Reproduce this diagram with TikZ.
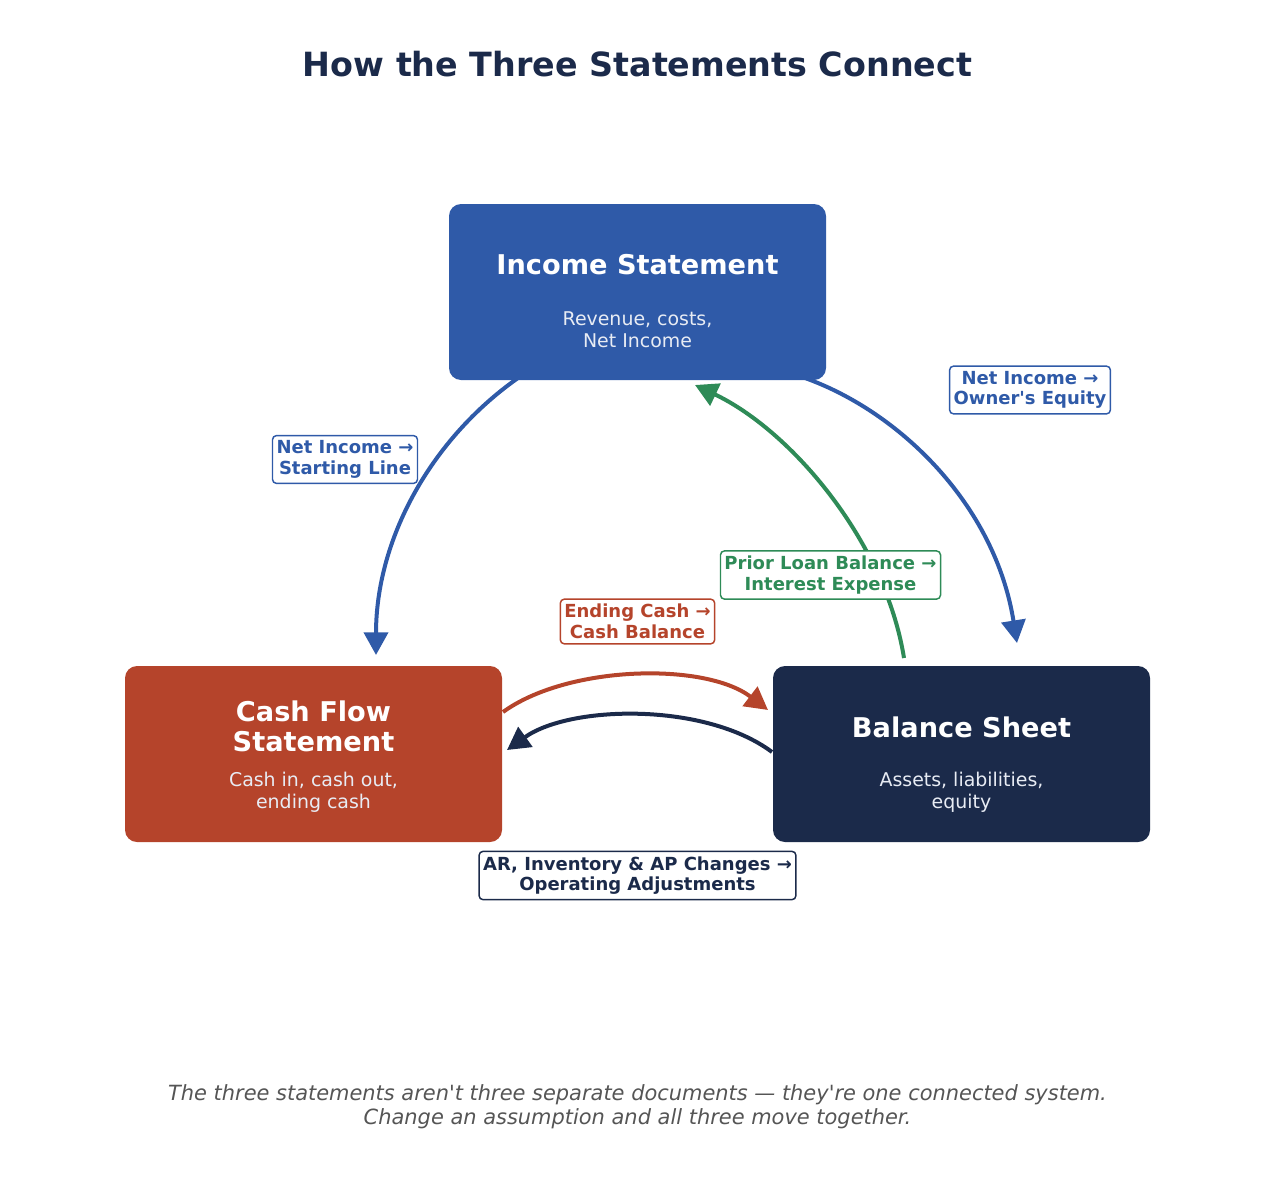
\documentclass[tikz,border=0pt]{standalone}
\usepackage{fontspec}
\setmainfont{DejaVu Sans}[Ligatures=TeXOff]
\usetikzlibrary{arrows.meta}
\definecolor{cblue}{RGB}{47,90,168}
\definecolor{cred}{RGB}{181,68,43}
\definecolor{cnavy}{RGB}{27,42,74}
\definecolor{cgreen}{RGB}{46,139,87}
\definecolor{cgray}{RGB}{85,85,85}
\definecolor{csub}{RGB}{232,236,244}
\begin{document}
\begin{tikzpicture}[x=0.75pt,y=-0.75pt,
  stmt/.style={rectangle, rounded corners=9pt, minimum width=282.75pt, minimum height=132pt, inner sep=0pt},
  boxtitle/.style={anchor=base, text=white, font=\fontsize{20.4}{22.5}\selectfont\bfseries},
  boxsub/.style={anchor=base, text=csub, font=\fontsize{14.2}{16.5}\selectfont},
  lbl/.style={draw, fill=white, rounded corners=3pt, line width=1.1pt, align=center, inner xsep=3pt, inner ysep=3.8pt, font=\fontsize{13.5}{15.5}\selectfont\bfseries},
  conn/.style={line width=3pt, -{Triangle[length=17pt,width=18pt]}},
]
\useasboundingbox (0,0) rectangle (1275,1185);

\node[anchor=base, text=cnavy, font=\fontsize{25}{30}\selectfont\bfseries] (title) at (637.5,76) {How the Three Statements Connect};

% statement boxes
\node[stmt, fill=cblue] (is) at (637.5,292) {};
\node[stmt, fill=cred] (cf) at (313.5,754) {};
\node[stmt, fill=cnavy] (bs) at (961.5,754) {};

\node[boxtitle] (ist) at (637.5,274) {Income Statement};
\node[boxsub] (is1) at (637.5,325) {Revenue, costs,};
\node[boxsub] (is2) at (637.5,347) {Net Income};

\node[boxtitle] (cft1) at (313.5,721) {Cash Flow};
\node[boxtitle] (cft2) at (313.5,751) {Statement};
\node[boxsub] (cf1) at (313.5,786) {Cash in, cash out,};
\node[boxsub] (cf2) at (313.5,808) {ending cash};

\node[boxtitle] (bst) at (961.5,737) {Balance Sheet};
\node[boxsub] (bs1) at (961.5,786) {Assets, liabilities,};
\node[boxsub] (bs2) at (961.5,808) {equity};

% connector end points
\coordinate (a1s) at (518,378);
\coordinate (a1e) at (376,655);
\coordinate (a2s) at (805,378);
\coordinate (a2e) at (1017,643);
\coordinate (a3s) at (904,658);
\coordinate (a3e) at (695,385);
\coordinate (a4s) at (503,712);
\coordinate (a4e) at (768,710);
\coordinate (a5s) at (772,752);
\coordinate (a5e) at (507,750);

\draw[conn, cblue] (a1s) .. controls (430,440) and (376,540) .. (a1e);
\draw[conn, cblue] (a2s) .. controls (900,412) and (995,505) .. (a2e);
\draw[conn, cgreen] (a3s) .. controls (885,540) and (790,430) .. (a3e);
\draw[conn, cred] (a4s) .. controls (568,665) and (705,662) .. (a4e);
\draw[conn, cnavy] (a5s) .. controls (705,702) and (570,705) .. (a5e);

% labels
\node[lbl, draw=cblue, text=cblue] (l1) at (345,459.5) {Net Income →\\Starting Line};
\node[lbl, draw=cblue, text=cblue] (l2) at (1030,390) {Net Income →\\Owner's Equity};
\node[lbl, draw=cgreen, text=cgreen] (l3) at (830.5,575) {Prior Loan Balance →\\Interest Expense};
\node[lbl, draw=cred, text=cred] (l4) at (637.5,621.5) {Ending Cash →\\Cash Balance};
\node[lbl, draw=cnavy, text=cnavy] (l5) at (637.5,875.5) {AR, Inventory \& AP Changes →\\Operating Adjustments};

% caption
\node[anchor=base, text=cgray, font=\fontsize{15.7}{17.7}\selectfont\itshape] (cap1) at (637.5,1100.5) {The three statements aren't three separate documents — they're one connected system.};
\node[anchor=base, text=cgray, font=\fontsize{15.7}{17.7}\selectfont\itshape] (cap2) at (637.5,1124) {Change an assumption and all three move together.};
\end{tikzpicture}
\end{document}
